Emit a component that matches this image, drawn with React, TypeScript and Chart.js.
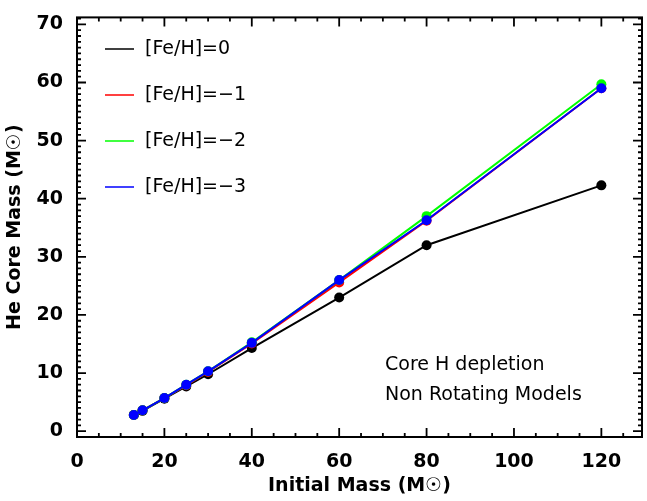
import React, { useEffect, useRef } from "react";
import { Chart, registerables } from "chart.js";
Chart.register(...registerables);

const masses = [13, 15, 20, 25, 30, 40, 60, 80, 120];
const fe0 = [2.8, 3.5, 5.6, 7.7, 9.8, 14.3, 23.0, 32.0, 42.3];
const fe1 = [2.8, 3.6, 5.7, 7.9, 10.2, 15.1, 25.6, 36.2, 59.0];
const fe2 = [2.8, 3.6, 5.7, 8.0, 10.3, 15.3, 26.0, 37.0, 59.7];
const fe3 = [2.8, 3.6, 5.7, 8.0, 10.3, 15.2, 26.0, 36.3, 59.0];
const xTicks = [0, 20, 40, 60, 80, 100, 120];
const yTicks = [0, 10, 20, 30, 40, 50, 60, 70];
const labels = ["[Fe/H]=0", "[Fe/H]=\u22121", "[Fe/H]=\u22122", "[Fe/H]=\u22123"];
const colors = ["#000000", "#ff0000", "#00ff00", "#0000ff"];
const notes = ["Core H depletion", "Non Rotating Models"];
const FONT = "DejaVu Sans";

const overlay = {
  id: "overlay",
  afterDraw(chart: any) {
    const ctx = chart.ctx;
    const xs = chart.scales.x, ys = chart.scales.y;
    const { left, right, top, bottom } = chart.chartArea;
    ctx.save();
    ctx.strokeStyle = "#000";
    ctx.lineWidth = 2;
    ctx.strokeRect(left, top, right - left, bottom - top);
    ctx.lineWidth = 1.8;
    for (let v = 0; v <= 129; v += 5) {
      const p = xs.getPixelForValue(v);
      const L = v % 20 === 0 ? 9 : 4;
      ctx.beginPath();
      ctx.moveTo(p, bottom); ctx.lineTo(p, bottom - L);
      ctx.moveTo(p, top); ctx.lineTo(p, top + L);
      ctx.stroke();
    }
    for (let v = 0; v <= 71; v += 1) {
      const p = ys.getPixelForValue(v);
      const L = v % 10 === 0 ? 9 : 4;
      ctx.beginPath();
      ctx.moveTo(left, p); ctx.lineTo(left + L, p);
      ctx.moveTo(right, p); ctx.lineTo(right - L, p);
      ctx.stroke();
    }
    ctx.font = `19px ${FONT}`;
    ctx.textBaseline = "middle";
    ctx.fillStyle = "#000";
    labels.forEach((t, i) => {
      const y = 49 + i * 46;
      ctx.strokeStyle = colors[i];
      ctx.lineWidth = 1.5;
      ctx.beginPath(); ctx.moveTo(105, y); ctx.lineTo(134, y); ctx.stroke();
      ctx.fillText(t, 145, y);
    });
    notes.forEach((t, i) => ctx.fillText(t, 385, 365 + i * 30));
    ctx.restore();
  },
};

export default function App() {
  const ref = useRef<HTMLCanvasElement>(null);
  useEffect(() => {
    document.body.style.margin = "0";
    const series = [fe0, fe1, fe2, fe3];
    const chart = new Chart(ref.current!, {
      type: "line",
      data: {
        datasets: series.map((s, i) => ({
          label: labels[i],
          data: masses.map((m, j) => ({ x: m, y: s[j] })),
          borderColor: colors[i],
          backgroundColor: colors[i],
          borderWidth: 2,
          pointRadius: 5,
          pointBorderWidth: 0,
          order: 3 - i,
        })),
      },
      options: {
        animation: false,
        responsive: false,
        layout: { padding: { top: 9, right: 4, left: 0, bottom: 0 } },
        plugins: { legend: { display: false }, tooltip: { enabled: false } },
        scales: {
          x: {
            type: "linear", min: 0, max: 129.3,
            grid: { display: false }, border: { display: false },
            afterBuildTicks: (s: any) => { s.ticks = xTicks.map((v) => ({ value: v })); },
            ticks: { color: "#000", font: { family: FONT, size: 19, weight: "bold" }, padding: 6, maxRotation: 0 },
            title: { display: true, text: "Initial Mass (M\u2609)", color: "#000", font: { family: FONT, size: 19, weight: "bold" }, padding: { top: 0 } },
            afterFit: (s: any) => { s.height = 64; },
          },
          y: {
            type: "linear", min: -1, max: 71.2,
            grid: { display: false }, border: { display: false },
            afterBuildTicks: (s: any) => { s.ticks = yTicks.map((v) => ({ value: v })); },
            ticks: { color: "#000", font: { family: FONT, size: 19, weight: "bold" }, padding: 6 },
            title: { display: true, text: "He Core Mass (M\u2609)", color: "#000", font: { family: FONT, size: 19, weight: "bold" }, padding: { bottom: 6 } },
            afterFit: (s: any) => { s.width = 77; },
          },
        },
      },
      plugins: [overlay],
    });
    return () => chart.destroy();
  }, []);
  return <canvas ref={ref} width={647} height={501} />;
}
